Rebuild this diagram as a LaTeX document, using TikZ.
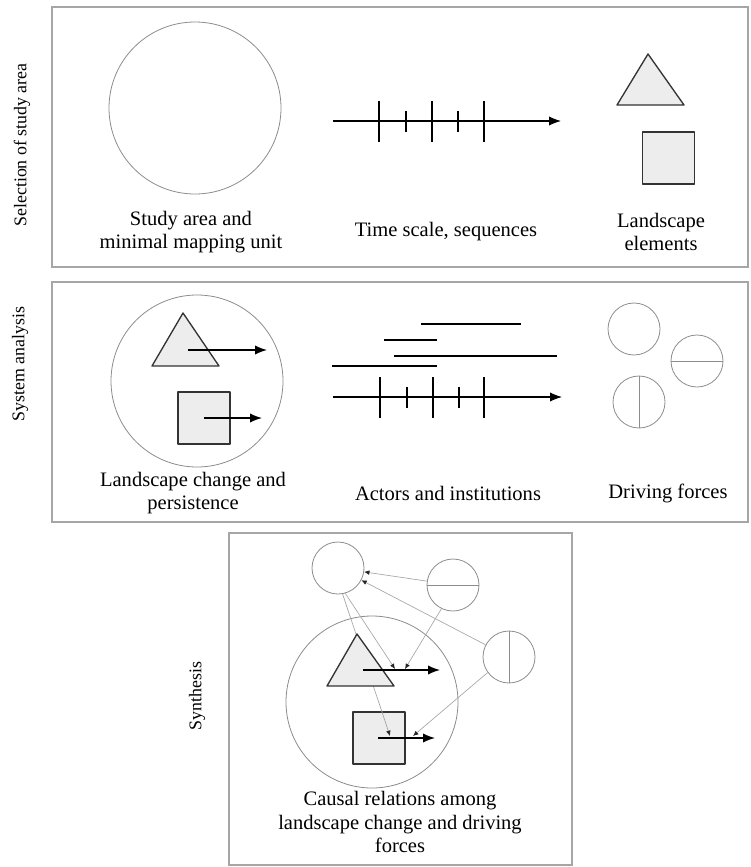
\documentclass[tikz,border=0pt]{standalone}
\usepackage{fontspec}
\setmainfont{Liberation Serif}
\usetikzlibrary{arrows.meta}

\tikzset{
    rahmen/.style={draw=black!35, line width=0.8pt},
    kreis/.style={circle, draw=black!45, line width=0.6pt, inner sep=0pt},
    gross/.style={kreis, minimum size=129pt},
    klein/.style={kreis, minimum size=39pt},
    flaeche/.style={draw=black!80, fill=black!7, line width=1pt, line join=round},
    quadrat/.style={flaeche, rectangle, inner sep=0pt, minimum size=39pt},
    pfeil/.style={-{Latex[length=9pt,width=7pt]}, line width=1pt},
    duenn/.style={draw=black!35, line width=0.5pt, -{Latex[length=4pt,width=3.5pt,color=black!85]}},
    balken/.style={line width=1.6pt},
    strich/.style={line width=0.9pt},
    schrift/.style={align=center, font=\fontsize{15.4}{17.3}\selectfont},
    seite/.style={align=center, font=\fontsize{13.4}{16}\selectfont, rotate=90}
}

\begin{document}
\begin{tikzpicture}[x=0.75pt,y=-0.75pt]
    \useasboundingbox (0,0) rectangle (750,867);
    \draw[rahmen] (52,7) rectangle (748,267);
    \draw[rahmen] (52,282) rectangle (748,522);
    \draw[rahmen] (229,533) rectangle (572,865);
    \path node[seite] (L1) at (22,145) {Selection of study area}
        node[seite] (L2) at (20,364) {System analysis}
        node[seite] (L3) at (197,696) {Synthesis};

    \path node[gross] (SA) at (195,108) {}
        node[schrift] (T1) at (191,232) {Study area and\\minimal mapping unit}
        node[schrift] (T2) at (446,232) {Time scale, sequences}
        node[schrift] (T3) at (661,232) {Landscape\\elements}
        node[quadrat] (Q1) at (668.5,158) {};
    \draw[flaeche] (617,105) -- (648,54) -- (684,105) -- cycle;
    \coordinate (Z1a) at (333,121);
    \coordinate (Z1b) at (561,121);
    \draw[pfeil, line width=0.8pt] (Z1a) -- (Z1b);
    \draw[strich] (379,101) -- (379,142) (432,101) -- (432,142) (484,101) -- (484,142);
    \draw[strich] (406,111) -- (406,132) (458,111) -- (458,132);

    \path node[gross] (LC) at (197,381) {}
        node[schrift] (T4) at (193,493) {Landscape change and\\persistence}
        node[schrift] (T5) at (448,493) {Actors and institutions}
        node[schrift] (T6) at (668,493) {Driving forces}
        node[quadrat] (Q2) at (204,418) {}
        node[klein] (D1) at (634,329) {}
        node[klein] (D2) at (697,361) {}
        node[klein] (D3) at (639,402) {};
    \draw[flaeche] (152,366) -- (183,313) -- (219,366) -- cycle;
    \draw[pfeil] (188,350) -- (267,350);
    \draw[pfeil] (204,418) -- (262,418);
    \draw[black!45, line width=0.6pt] (D2.west) -- (D2.east) (D3.north) -- (D3.south);
    \draw[balken] (421,324) -- (521,324) (384,340) -- (437,340)
        (394,356) -- (557,356) (332,366) -- (437,366);
    \coordinate (Z2a) at (333,397);
    \coordinate (Z2b) at (562,397);
    \draw[pfeil, line width=0.8pt] (Z2a) -- (Z2b);
    \draw[strich] (380,377) -- (380,418) (433,377) -- (433,418) (484,377) -- (484,418);
    \draw[strich] (407,387) -- (407,408) (459,387) -- (459,408);

    \path node[gross] (KR) at (372,702) {}
        node[klein] (TL) at (338,568) {}
        node[klein] (HC) at (453,585) {}
        node[klein] (VC) at (509,657) {}
        node[quadrat] (Q3) at (379,738) {}
        node[schrift] (T7) at (400,822) {Causal relations among\\landscape change and driving\\forces};
    \draw[black!45, line width=0.6pt] (HC.west) -- (HC.east) (VC.north) -- (VC.south);
    \coordinate (E1) at (395,669);
    \coordinate (E2) at (405,669);
    \coordinate (E3) at (390,736);
    \coordinate (E4) at (413,736);
    \draw[duenn] (HC) -- (TL);
    \draw[duenn] (VC) -- (TL);
    \draw[duenn] (TL.-74) -- (E1);
    \draw[duenn] (HC.-116) -- (E2);
    \draw[duenn] (TL.-80) -- (E3);
    \draw[duenn] (VC.-144) -- (E4);
    \draw[flaeche] (327,686) -- (357,634) -- (394,686) -- cycle;
    \draw[pfeil] (363,670) -- (440,670);
    \draw[pfeil] (378,738) -- (435,738);
\end{tikzpicture}
\end{document}
